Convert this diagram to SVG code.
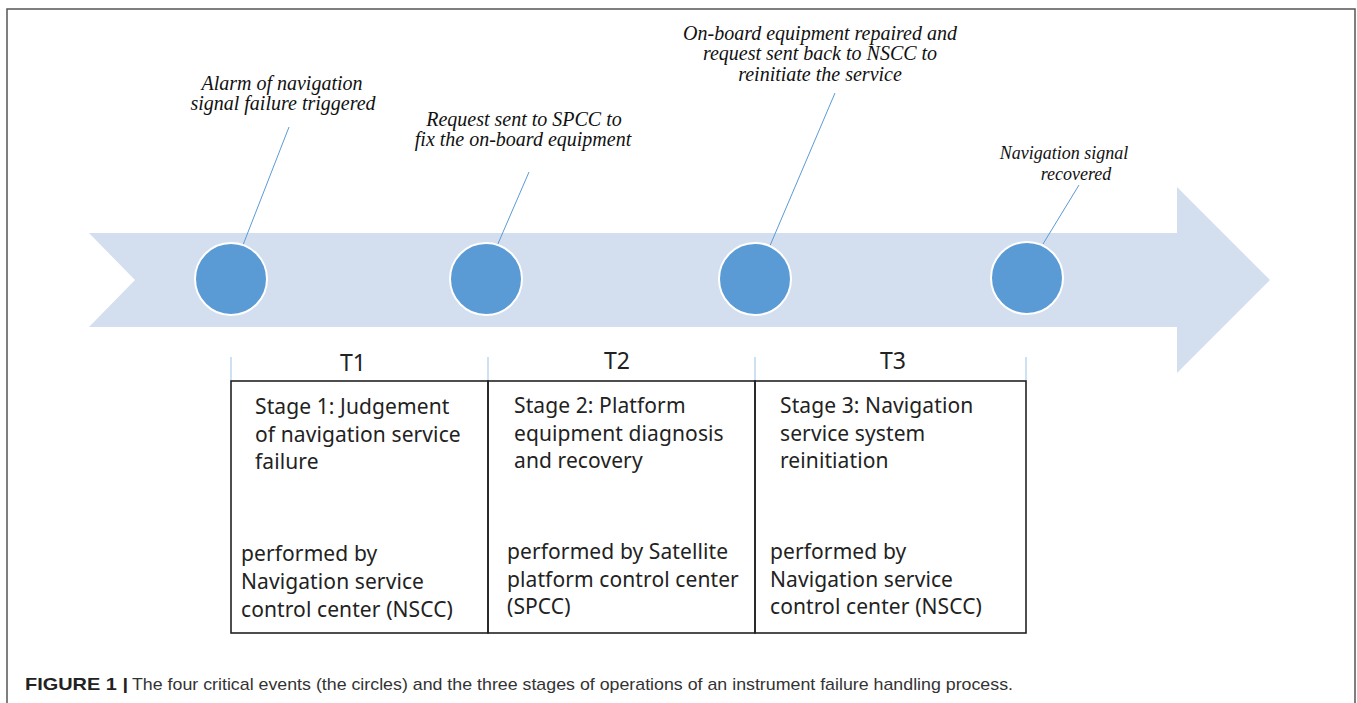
<svg xmlns="http://www.w3.org/2000/svg" width="1357" height="703" viewBox="0 0 1357 703">
  <style>
    .ev { fill: #5B9BD5; stroke: #FFFFFF; stroke-width: 2; }
    .lead { stroke: #5B9BD5; stroke-width: 1; fill: none; }
    .tick { stroke: #9DC3E6; stroke-width: 1; fill: none; }
    .note { font-family: "Liberation Serif", serif; font-style: italic; font-size: 20px; fill: #111; text-anchor: middle; }
    .note.sm { font-size: 18px; }
    .box { fill: none; stroke: #222; stroke-width: 1.6; }
    .st { font-family: "Noto Sans", "Liberation Sans", sans-serif; font-size: 21px; fill: #222; letter-spacing: 0.1px; }
    .tl { font-family: "Noto Sans", "Liberation Sans", sans-serif; font-size: 23px; fill: #222; text-anchor: middle; }
    .cap { font-family: "Liberation Sans", Arial, sans-serif; font-size: 17px; fill: #333; }
  </style>
  <rect width="1357" height="703" fill="#FFFFFF"/>
  <path d="M7,703 V9 H1355 V703" fill="none" stroke="#555" stroke-width="1.5"/>

  <g id="timeline-arrow">
    <path d="M89,233 H1177 V187 L1270,280 L1177,373 V327 H89 L135,280 Z" fill="#D3DEEF"/>
  </g>

  <g id="connectors">
    <line class="lead" x1="243" y1="245" x2="289" y2="127"/>
    <line class="lead" x1="497" y1="246" x2="529" y2="172"/>
    <line class="lead" x1="769" y1="248" x2="835" y2="93"/>
    <line class="lead" x1="1043" y1="244" x2="1079" y2="185"/>
    <line class="tick" x1="231" y1="357" x2="231" y2="381"/>
    <line class="tick" x1="488" y1="357" x2="488" y2="381"/>
    <line class="tick" x1="755" y1="357" x2="755" y2="381"/>
    <line class="tick" x1="1026" y1="357" x2="1026" y2="381"/>
  </g>

  <g id="event1">
    <circle class="ev" cx="231" cy="279" r="36"/>
    <text class="note"><tspan x="282" y="90">Alarm of navigation</tspan><tspan x="283" y="110">signal failure triggered</tspan></text>
  </g>
  <g id="event2">
    <circle class="ev" cx="486" cy="279" r="36"/>
    <text class="note"><tspan x="524" y="126">Request sent to SPCC to</tspan><tspan x="523" y="146">fix the on-board equipment</tspan></text>
  </g>
  <g id="event3">
    <circle class="ev" cx="755" cy="279" r="36"/>
    <text class="note"><tspan x="820" y="40">On-board equipment repaired and</tspan><tspan x="820" y="60">request sent back to NSCC to</tspan><tspan x="820" y="81">reinitiate the service</tspan></text>
  </g>
  <g id="event4">
    <circle class="ev" cx="1027" cy="278" r="36"/>
    <text class="note sm"><tspan x="1064" y="159">Navigation signal</tspan><tspan x="1076" y="180">recovered</tspan></text>
  </g>

  <g id="stage1">
    <text class="tl" x="353" y="371">T1</text>
    <rect class="box" x="231" y="381" width="257" height="252"/>
    <text class="st"><tspan x="255" y="414">Stage 1: Judgement</tspan><tspan x="255" y="442">of navigation service</tspan><tspan x="255" y="469">failure</tspan></text>
    <text class="st"><tspan x="241" y="561">performed by</tspan><tspan x="241" y="589">Navigation service</tspan><tspan x="241" y="617">control center (NSCC)</tspan></text>
  </g>
  <g id="stage2">
    <text class="tl" x="617" y="369">T2</text>
    <rect class="box" x="488" y="381" width="267" height="252"/>
    <text class="st"><tspan x="514" y="413">Stage 2: Platform</tspan><tspan x="514" y="441">equipment diagnosis</tspan><tspan x="514" y="468">and recovery</tspan></text>
    <text class="st"><tspan x="507" y="559">performed by Satellite</tspan><tspan x="507" y="587">platform control center</tspan><tspan x="507" y="614">(SPCC)</tspan></text>
  </g>
  <g id="stage3">
    <text class="tl" x="893" y="369">T3</text>
    <rect class="box" x="755" y="381" width="271" height="252"/>
    <text class="st"><tspan x="780" y="413">Stage 3: Navigation</tspan><tspan x="780" y="441">service system</tspan><tspan x="780" y="468">reinitiation</tspan></text>
    <text class="st"><tspan x="770" y="559">performed by</tspan><tspan x="770" y="587">Navigation service</tspan><tspan x="770" y="614">control center (NSCC)</tspan></text>
  </g>

  <text class="cap" y="690"><tspan x="25" font-weight="bold" fill="#222" textLength="103" lengthAdjust="spacingAndGlyphs">FIGURE 1 |</tspan><tspan x="132" textLength="881" lengthAdjust="spacingAndGlyphs">The four critical events (the circles) and the three stages of operations of an instrument failure handling process.</tspan></text>
</svg>
